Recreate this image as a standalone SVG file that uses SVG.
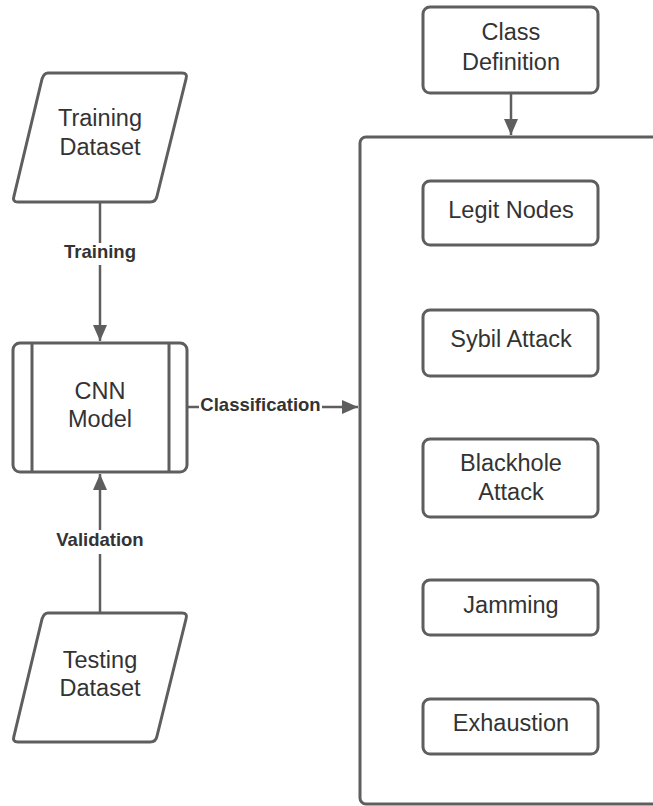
<svg xmlns="http://www.w3.org/2000/svg" width="653" height="806" viewBox="0 0 653 806">
  <style>
    .shape { fill: #ffffff; stroke: #5e5e5e; stroke-width: 3; stroke-linejoin: round; }
    .bar { stroke: #5e5e5e; stroke-width: 3; }
    .node-text { font-family: "Liberation Sans", Arial, sans-serif; font-size: 23.5px; fill: #333333; text-anchor: middle; }
    .edge { stroke: #5e5e5e; stroke-width: 2.5; fill: none; }
    .edge-label { font-family: "Liberation Sans", Arial, sans-serif; font-size: 18.5px; font-weight: bold; fill: #333333; text-anchor: middle; }
  </style>
  <defs>
    <marker id="arrow" markerUnits="userSpaceOnUse" markerWidth="16" markerHeight="14" refX="16" refY="7" orient="auto">
      <path d="M0,0 L16,7 L0,14 z" fill="#5e5e5e"/>
    </marker>
  </defs>

  <rect width="653" height="806" fill="#ffffff"/>

  <!-- container holding the classes -->
  <g id="classes-container">
    <rect class="shape" x="360" y="137" width="320" height="667" rx="6"/>
  </g>

  <g id="training-dataset">
    <path class="shape" d="M48,73 L182,73 Q188,73 186,79 L157,196 Q156,202 150,202 L18,202 Q12,202 14,196 L42,79 Q44,73 48,73 z"/>
    <text class="node-text" x="100" y="126">Training</text>
    <text class="node-text" x="100" y="155">Dataset</text>
  </g>

  <g id="cnn-model">
    <rect class="shape" x="13" y="343" width="174" height="129" rx="7"/>
    <line class="bar" x1="32" y1="343" x2="32" y2="472"/>
    <line class="bar" x1="169" y1="343" x2="169" y2="472"/>
    <text class="node-text" x="100" y="399">CNN</text>
    <text class="node-text" x="100" y="427">Model</text>
  </g>

  <g id="testing-dataset">
    <path class="shape" d="M48,613 L182,613 Q188,613 186,619 L157,736 Q156,742 150,742 L18,742 Q12,742 14,736 L42,619 Q44,613 48,613 z"/>
    <text class="node-text" x="100" y="668">Testing</text>
    <text class="node-text" x="100" y="696">Dataset</text>
  </g>

  <g id="class-definition">
    <rect class="shape" x="423" y="7" width="175" height="86" rx="7"/>
    <text class="node-text" x="511" y="40">Class</text>
    <text class="node-text" x="511" y="70">Definition</text>
  </g>

  <g id="legit-nodes">
    <rect class="shape" x="423" y="181" width="175" height="64" rx="7"/>
    <text class="node-text" x="511" y="218">Legit Nodes</text>
  </g>

  <g id="sybil-attack">
    <rect class="shape" x="423" y="310" width="175" height="66" rx="7"/>
    <text class="node-text" x="511" y="347">Sybil Attack</text>
  </g>

  <g id="blackhole-attack">
    <rect class="shape" x="423" y="439" width="175" height="78" rx="7"/>
    <text class="node-text" x="511" y="471">Blackhole</text>
    <text class="node-text" x="511" y="500">Attack</text>
  </g>

  <g id="jamming">
    <rect class="shape" x="423" y="580" width="175" height="55" rx="7"/>
    <text class="node-text" x="511" y="613">Jamming</text>
  </g>

  <g id="exhaustion">
    <rect class="shape" x="423" y="699" width="175" height="55" rx="7"/>
    <text class="node-text" x="511" y="731">Exhaustion</text>
  </g>

  <g id="connectors">
    <line class="edge" x1="100" y1="203" x2="100" y2="341" marker-end="url(#arrow)"/>
    <rect x="60" y="243" width="80" height="22" fill="#ffffff"/>
    <text class="edge-label" x="100" y="258">Training</text>

    <line class="edge" x1="100" y1="612" x2="100" y2="474" marker-end="url(#arrow)"/>
    <rect x="52" y="530" width="96" height="24" fill="#ffffff"/>
    <text class="edge-label" x="100" y="546">Validation</text>

    <line class="edge" x1="188" y1="407" x2="358" y2="407" marker-end="url(#arrow)"/>
    <rect x="199" y="396" width="123" height="22" fill="#ffffff"/>
    <text class="edge-label" x="260.5" y="411">Classification</text>

    <line class="edge" x1="511" y1="94" x2="511" y2="135" marker-end="url(#arrow)"/>
  </g>
</svg>
